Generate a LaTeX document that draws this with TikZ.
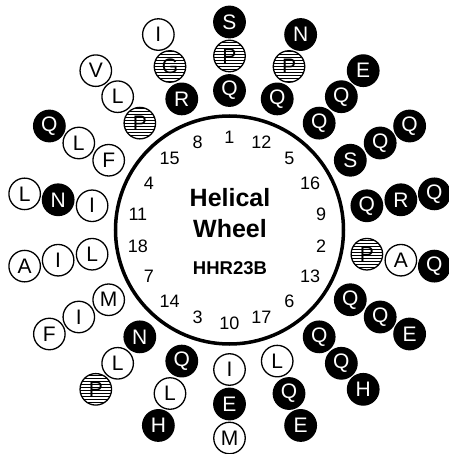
\documentclass[tikz,border=0pt]{standalone}
\usepackage{fontspec}
\setmainfont{Liberation Sans}
\usetikzlibrary{patterns}
\tikzset{
  resopen/.style={circle,draw,line width=1.3pt,minimum size=31.5pt,inner sep=0pt,font=\fontsize{21}{21}\selectfont},
  resdark/.style={resopen,fill=black,text=white},
  reshatch/.style={resopen,pattern=horizontal lines},
  num/.style={font=\fontsize{18}{18}\selectfont}
}
\begin{document}
\begin{tikzpicture}
\useasboundingbox (-229.5pt,-224pt) rectangle (218.5pt,230pt);
\draw[line width=3.5pt] (0,0) circle (114pt);
\node[font=\bfseries\fontsize{25}{25}\selectfont] (title) at (0.5pt,32pt) {Helical};
\node[font=\bfseries\fontsize{25}{25}\selectfont] (title2) at (0.5pt,1pt) {Wheel};
\node[font=\bfseries\fontsize{18.5}{18.5}\selectfont] (name) at (0.5pt,-38.5pt) {HHR23B};
% position numbers
\node[num] (n1) at (90:93pt) {1};
\node[num] (n2) at (-10:93pt) {2};
\node[num] (n3) at (-110:93pt) {3};
\node[num] (n4) at (150:93pt) {4};
\node[num] (n5) at (50:93pt) {5};
\node[num] (n6) at (-50:93pt) {6};
\node[num] (n7) at (-150:93pt) {7};
\node[num] (n8) at (110:93pt) {8};
\node[num] (n9) at (10:93pt) {9};
\node[num] (n10) at (-90:93pt) {10};
\node[num] (n11) at (170:93pt) {11};
\node[num] (n12) at (70:93pt) {12};
\node[num] (n13) at (-30:93pt) {13};
\node[num] (n14) at (-130:93pt) {14};
\node[num] (n15) at (130:93pt) {15};
\node[num] (n16) at (30:93pt) {16};
\node[num] (n17) at (-70:93pt) {17};
\node[num] (n18) at (-170:93pt) {18};
% residues, inner to outer
\node[resdark] (r1) at (90:139.5pt) {Q};
\node[reshatch] (r19) at (90:174pt) {P};
\node[resdark] (r37) at (90:208pt) {S};
\node[reshatch] (r2) at (-10:139.5pt) {P};
\node[resopen] (r20) at (-10:174pt) {A};
\node[resdark] (r38) at (-10:208pt) {Q};
\node[resdark] (r3) at (-110:139.5pt) {Q};
\node[resopen] (r21) at (-110:174pt) {L};
\node[resdark] (r39) at (-110:208pt) {H};
\node[resopen] (r4) at (150:139.5pt) {F};
\node[resopen] (r22) at (150:174pt) {L};
\node[resdark] (r40) at (150:208pt) {Q};
\node[resdark] (r5) at (50:139.5pt) {Q};
\node[resdark] (r23) at (50:174pt) {Q};
\node[resdark] (r41) at (50:208pt) {E};
\node[resdark] (r6) at (-50:139.5pt) {Q};
\node[resdark] (r24) at (-50:174pt) {Q};
\node[resdark] (r42) at (-50:208pt) {H};
\node[resopen] (r7) at (-150:139.5pt) {M};
\node[resopen] (r25) at (-150:174pt) {I};
\node[resopen] (r43) at (-150:208pt) {F};
\node[resdark] (r8) at (110:139.5pt) {R};
\node[reshatch] (r26) at (110:174pt) {G};
\node[resopen] (r44) at (110:208pt) {I};
\node[resdark] (r9) at (10:139.5pt) {Q};
\node[resdark] (r27) at (10:174pt) {R};
\node[resdark] (r45) at (10:208pt) {Q};
\node[resopen] (r10) at (-90:139.5pt) {I};
\node[resdark] (r28) at (-90:174pt) {E};
\node[resopen] (r46) at (-90:208pt) {M};
\node[resopen] (r11) at (170:139.5pt) {I};
\node[resdark] (r29) at (170:174pt) {N};
\node[resopen] (r47) at (170:208pt) {L};
\node[resdark] (r12) at (70:139.5pt) {Q};
\node[reshatch] (r30) at (70:174pt) {P};
\node[resdark] (r48) at (70:208pt) {N};
\node[resdark] (r13) at (-30:139.5pt) {Q};
\node[resdark] (r31) at (-30:174pt) {Q};
\node[resdark] (r49) at (-30:208pt) {E};
\node[resdark] (r14) at (-130:139.5pt) {N};
\node[resopen] (r32) at (-130:174pt) {L};
\node[reshatch] (r50) at (-130:208pt) {P};
\node[reshatch] (r15) at (130:139.5pt) {P};
\node[resopen] (r33) at (130:174pt) {L};
\node[resopen] (r51) at (130:208pt) {V};
\node[resdark] (r16) at (30:139.5pt) {S};
\node[resdark] (r34) at (30:174pt) {Q};
\node[resdark] (r52) at (30:208pt) {Q};
\node[resopen] (r17) at (-70:139.5pt) {L};
\node[resdark] (r35) at (-70:174pt) {Q};
\node[resdark] (r53) at (-70:208pt) {E};
\node[resopen] (r18) at (-170:139.5pt) {L};
\node[resopen] (r36) at (-170:174pt) {I};
\node[resopen] (r54) at (-170:208pt) {A};
\end{tikzpicture}
\end{document}
